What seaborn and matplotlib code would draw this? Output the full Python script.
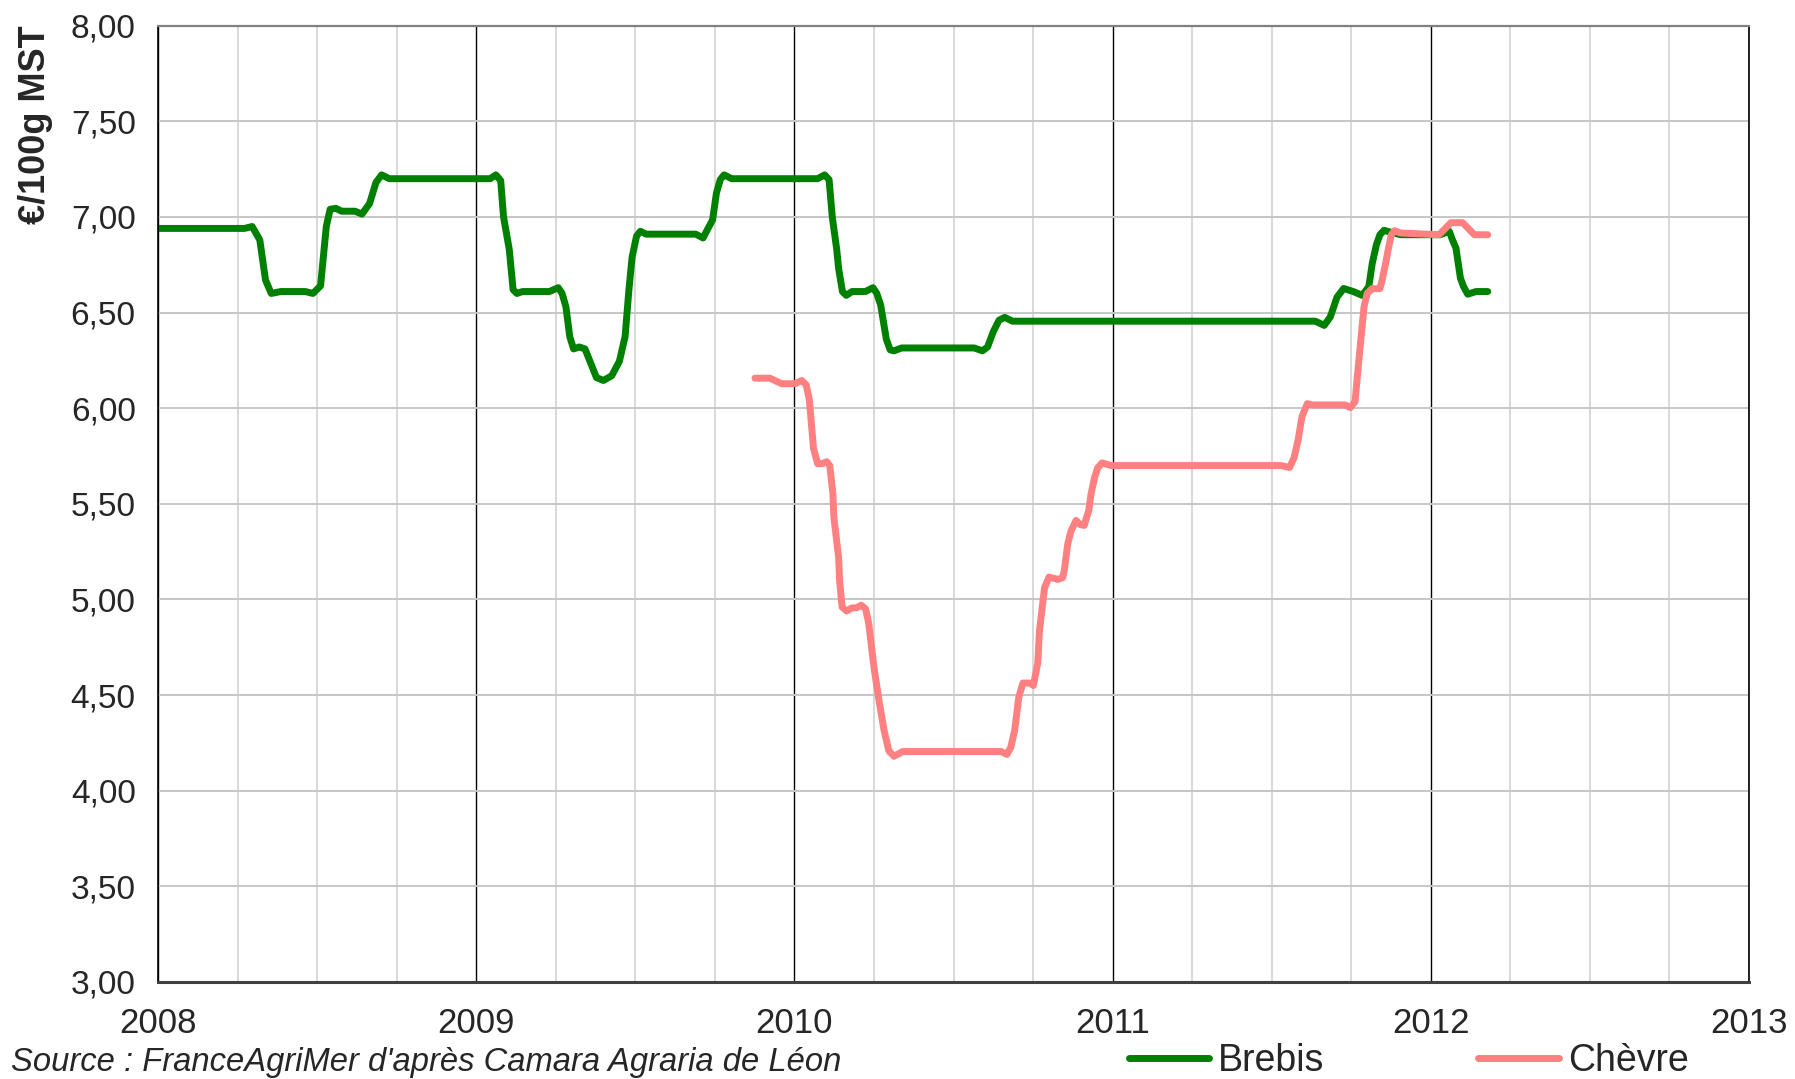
import numpy as np
import pandas as pd
import matplotlib
matplotlib.use("Agg")
import matplotlib.pyplot as plt
import seaborn as sns
from matplotlib.ticker import MultipleLocator, FuncFormatter

# prix en €/100g MST, x en annee decimale
brebis_x = [2008.0, 2008.272, 2008.296, 2008.32, 2008.338, 2008.356, 2008.386, 2008.463, 2008.487,
            2008.511, 2008.529, 2008.541, 2008.559, 2008.577, 2008.619, 2008.641, 2008.665, 2008.685,
            2008.703, 2008.727, 2009.044, 2009.062, 2009.077, 2009.086, 2009.104, 2009.116, 2009.128,
            2009.146, 2009.23, 2009.258, 2009.27, 2009.282, 2009.294, 2009.306, 2009.324, 2009.342,
            2009.36, 2009.378, 2009.40, 2009.426, 2009.45, 2009.468, 2009.48, 2009.49, 2009.504,
            2009.516, 2009.534, 2009.69, 2009.713, 2009.727, 2009.743, 2009.755, 2009.767, 2009.779,
            2009.803, 2010.073, 2010.095, 2010.109, 2010.119, 2010.133, 2010.139, 2010.151, 2010.163,
            2010.181, 2010.223, 2010.247, 2010.259, 2010.271, 2010.289, 2010.301, 2010.313, 2010.337,
            2010.565, 2010.591, 2010.607, 2010.625, 2010.643, 2010.661, 2010.685, 2011.637, 2011.665,
            2011.684, 2011.705, 2011.726, 2011.758, 2011.784, 2011.805, 2011.816, 2011.829, 2011.84,
            2011.853, 2011.874, 2011.905, 2012.03, 2012.058, 2012.068, 2012.079, 2012.093, 2012.103,
            2012.116, 2012.142, 2012.179]
brebis_y = [6.94, 6.94, 6.95, 6.88, 6.67, 6.60, 6.61, 6.61, 6.60,
            6.64, 6.95, 7.04, 7.045, 7.03, 7.03, 7.015, 7.07, 7.18,
            7.22, 7.20, 7.20, 7.22, 7.19, 7.00, 6.83, 6.62, 6.60,
            6.61, 6.61, 6.63, 6.60, 6.53, 6.375, 6.31, 6.32, 6.31,
            6.235, 6.16, 6.145, 6.17, 6.245, 6.375, 6.62, 6.79, 6.90,
            6.925, 6.91, 6.91, 6.89, 6.935, 6.985, 7.125, 7.195, 7.22,
            7.20, 7.20, 7.22, 7.195, 7.00, 6.83, 6.73, 6.61, 6.59,
            6.61, 6.61, 6.63, 6.60, 6.54, 6.36, 6.305, 6.30, 6.315,
            6.315, 6.30, 6.32, 6.40, 6.46, 6.475, 6.455, 6.455, 6.433,
            6.477, 6.58, 6.626, 6.609, 6.59, 6.635, 6.758, 6.855, 6.907,
            6.93, 6.92, 6.907, 6.907, 6.925, 6.88, 6.837, 6.68, 6.635,
            6.596, 6.61, 6.61]

chevre_x = [2009.876, 2009.923, 2009.96, 2010.002, 2010.023, 2010.037, 2010.047, 2010.06, 2010.073,
            2010.086, 2010.102, 2010.111, 2010.121, 2010.124, 2010.139, 2010.142, 2010.15, 2010.164,
            2010.181, 2010.195, 2010.21, 2010.224, 2010.234, 2010.25, 2010.266, 2010.282, 2010.297,
            2010.313, 2010.34, 2010.65, 2010.668, 2010.68, 2010.692, 2010.705, 2010.718, 2010.739,
            2010.751, 2010.758, 2010.765, 2010.77, 2010.78, 2010.786, 2010.80, 2010.828, 2010.843,
            2010.848, 2010.859, 2010.869, 2010.885, 2010.898, 2010.911, 2010.916, 2010.925, 2010.932,
            2010.943, 2010.953, 2010.967, 2010.995, 2011.53, 2011.556, 2011.57, 2011.583, 2011.595,
            2011.612, 2011.628, 2011.731, 2011.747, 2011.762, 2011.768, 2011.775, 2011.783, 2011.79,
            2011.80, 2011.815, 2011.84, 2011.847, 2011.858, 2011.868, 2011.876, 2011.886, 2011.905,
            2012.026, 2012.063, 2012.10, 2012.137, 2012.179]
chevre_y = [6.157, 6.157, 6.128, 6.128, 6.145, 6.122, 6.044, 5.79, 5.71,
            5.71, 5.72, 5.70, 5.554, 5.43, 5.22, 5.10, 4.96, 4.94,
            4.956, 4.956, 4.97, 4.95, 4.87, 4.645, 4.47, 4.313, 4.208,
            4.18, 4.205, 4.205, 4.19, 4.227, 4.314, 4.488, 4.563, 4.563,
            4.55, 4.61, 4.67, 4.835, 4.975, 5.06, 5.117, 5.105, 5.114,
            5.15, 5.29, 5.357, 5.413, 5.392, 5.387, 5.418, 5.465, 5.549,
            5.636, 5.688, 5.714, 5.70, 5.70, 5.69, 5.74, 5.835, 5.956,
            6.024, 6.017, 6.017, 6.003, 6.035, 6.147, 6.27, 6.408, 6.53,
            6.60, 6.625, 6.625, 6.67, 6.758, 6.846, 6.907, 6.928, 6.916,
            6.907, 6.97, 6.97, 6.907, 6.907]

years = [2008, 2009, 2010, 2011, 2012, 2013]

sns.set_style("white")
plt.rcParams['font.family'] = ['Liberation Sans', 'DejaVu Sans']

fig = plt.figure(figsize=(17.95, 10.79), dpi=100)
ax = fig.add_axes([0.088, 0.0899, 0.8864, 0.8863])

df_b = pd.DataFrame({"date": brebis_x, "prix": brebis_y})
df_c = pd.DataFrame({"date": chevre_x, "prix": chevre_y})

# grille
ax.set_xlim(2008, 2013)
ax.set_ylim(3, 8)
ax.xaxis.set_major_locator(MultipleLocator(1))
ax.xaxis.set_minor_locator(MultipleLocator(0.25))
ax.yaxis.set_major_locator(MultipleLocator(0.5))
ax.grid(which="minor", axis="x", color="#d2d2d2", lw=1.2)
ax.grid(which="major", axis="x", color="black", lw=1.0)
ax.grid(which="major", axis="y", color="#c6c6c6", lw=1.4)
ax.set_axisbelow(True)

sns.lineplot(data=df_b, x="date", y="prix", ax=ax, color="#008000", lw=5,
             estimator=None, sort=False, label="Brebis", solid_joinstyle="round",
             solid_capstyle="round")
sns.lineplot(data=df_c, x="date", y="prix", ax=ax, color="#ff8080", lw=5,
             estimator=None, sort=False, label="Chèvre", solid_joinstyle="round",
             solid_capstyle="round")

ax.set_xticks(years)
ax.set_xticklabels([str(y) for y in years])
ax.yaxis.set_major_formatter(FuncFormatter(lambda v, p: f"{v:.2f}".replace(".", ",")))
ax.tick_params(axis="x", which="major", direction="out", length=10, width=1.2,
               color="black", labelsize=25, pad=8)
ax.tick_params(axis="x", which="minor", length=0)
ax.tick_params(axis="y", direction="out", length=8, width=1.2, color="black",
               labelsize=24, pad=8)
ax.set_xlabel("")
ax.set_ylabel("€/100g MST", fontsize=26, fontweight="bold", loc="top")
ax.yaxis.set_label_coords(-0.066, 1.0)

for s in ["left", "right"]:
    ax.spines[s].set_color("black")
    ax.spines[s].set_linewidth(1.2)
ax.spines["top"].set_color("#808080")
ax.spines["top"].set_linewidth(1.6)
ax.spines["bottom"].set_color("#404040")
ax.spines["bottom"].set_linewidth(2.2)

ax.legend(loc="center left", bbox_to_anchor=(0.61, -0.083), ncol=2, frameon=False,
          fontsize=27, handlelength=2.15, handletextpad=0.24, columnspacing=4.1,
          borderaxespad=0, borderpad=0)

fig.text(0.006, 0.0005, "Source : FranceAgriMer d'après Camara Agraria de Léon",
         fontsize=23.6, style="italic", ha="left", va="bottom")

fig.savefig("out.png", dpi=100)
